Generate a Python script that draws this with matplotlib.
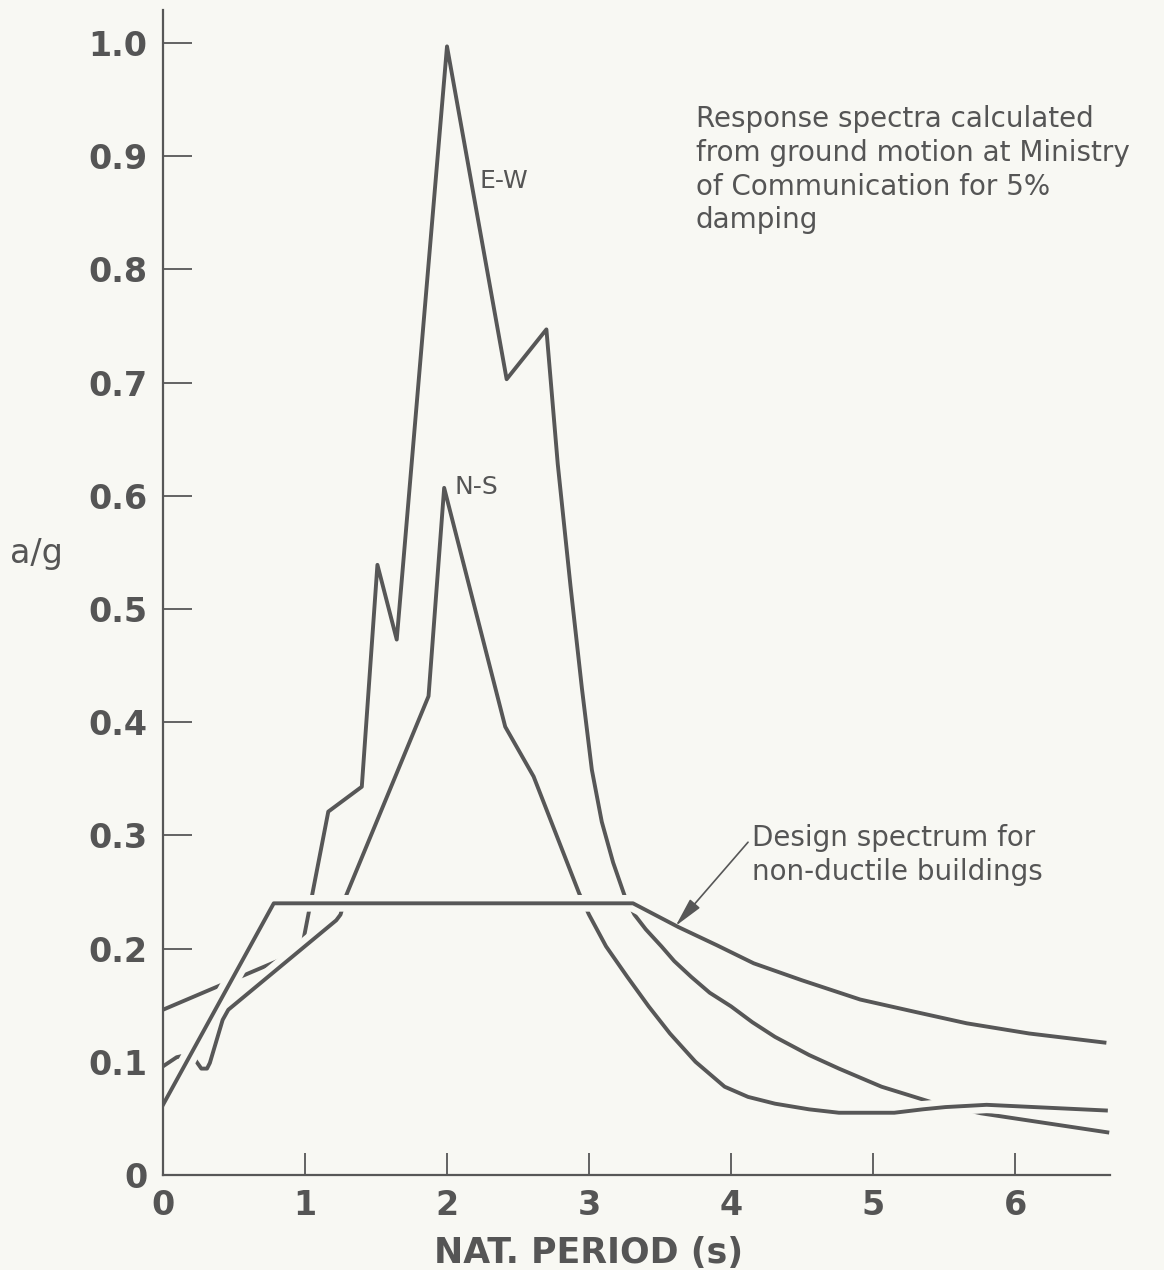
import matplotlib.pyplot as plt
import matplotlib.patheffects as pe

# response spectra (period in s, a/g)
ew_period = [0.0, 0.974, 1.164, 1.40, 1.51, 1.646, 2.0, 2.42, 2.70, 2.78, 2.87, 2.95,
             3.02, 3.09, 3.17, 3.25, 3.32, 3.40, 3.51, 3.60, 3.72, 3.85, 4.0, 4.15,
             4.31, 4.55, 4.76, 5.06, 5.42, 5.76, 6.65]
ew_accel = [0.146, 0.198, 0.321, 0.343, 0.539, 0.473, 0.997, 0.703, 0.747, 0.628, 0.52, 0.43,
            0.358, 0.312, 0.276, 0.247, 0.230, 0.217, 0.202, 0.189, 0.175, 0.161, 0.149, 0.135,
            0.122, 0.106, 0.094, 0.078, 0.064, 0.0545, 0.0377]

ns_period = [0.0, 0.096, 0.13, 0.225, 0.27, 0.31, 0.33, 0.42, 0.46, 1.22, 1.25, 1.29, 1.87,
             1.98, 2.41, 2.61, 2.93, 3.0, 3.12, 3.27, 3.42, 3.57, 3.75, 3.955, 4.12, 4.31,
             4.55, 4.76, 5.15, 5.35, 5.51, 5.80, 6.64]
ns_accel = [0.096, 0.104, 0.105, 0.102, 0.094, 0.094, 0.099, 0.137, 0.146, 0.225, 0.230, 0.247,
            0.423, 0.607, 0.396, 0.352, 0.249, 0.230, 0.202, 0.175, 0.149, 0.125, 0.100, 0.078,
            0.069, 0.063, 0.058, 0.055, 0.055, 0.058, 0.060, 0.062, 0.057]

design_period = [0.0, 0.78, 3.31, 3.63, 3.90, 4.16, 4.50, 4.91, 5.30, 5.66, 6.10, 6.63]
design_accel = [0.062, 0.24, 0.24, 0.219, 0.203, 0.187, 0.172, 0.155, 0.144, 0.134, 0.125, 0.117]

xticks = [0, 1, 2, 3, 4, 5, 6]
yticks = [0, 0.1, 0.2, 0.3, 0.4, 0.5, 0.6, 0.7, 0.8, 0.9, 1.0]
ytick_labels = ["0", "0.1", "0.2", "0.3", "0.4", "0.5", "0.6", "0.7", "0.8", "0.9", "1.0"]

bg = "#f8f8f3"
ink = "#575757"
txt = "#555555"

fig = plt.figure(figsize=(11.64, 12.70), dpi=100, facecolor=bg)
ax = fig.add_axes([163 / 1164, 1 - 1175 / 1270, 947 / 1164, 1165 / 1270], facecolor=bg)

lw = 2.8
halo = [pe.Stroke(linewidth=12, foreground=bg), pe.Normal()]

ax.plot(ew_period, ew_accel, color=ink, lw=lw, zorder=2, solid_joinstyle="round")
ax.plot(ns_period, ns_accel, color=ink, lw=lw, zorder=3, solid_joinstyle="round",
        path_effects=halo)
ax.plot(design_period, design_accel, color=ink, lw=lw, zorder=4, solid_joinstyle="round",
        path_effects=halo)

ax.text(2.23, 0.878, "E-W", fontsize=18, color=txt, va="center")
ax.text(2.05, 0.608, "N-S", fontsize=18, color=txt, va="center")

ax.text(3.75, 0.945, "Response spectra calculated\nfrom ground motion at Ministry\n"
        "of Communication for 5%\ndamping", fontsize=20, color=txt, va="top",
        linespacing=1.26)
ax.text(4.15, 0.283, "Design spectrum for\nnon-ductile buildings", fontsize=20,
        color=txt, va="center", linespacing=1.26)
ax.annotate("", xy=(3.61, 0.22), xytext=(4.12, 0.294),
            arrowprops=dict(arrowstyle="-|>,head_length=0.9,head_width=0.2",
                            mutation_scale=20, color=ink, lw=1.2,
                            shrinkA=0, shrinkB=0), zorder=6)

ax.set_xlim(0, 947 / 142)
ax.set_ylim(0, 1165 / 1132)
ax.set_xticks(xticks)
ax.set_yticks(yticks)
ax.set_yticklabels(ytick_labels)
for lab in ax.get_xticklabels() + ax.get_yticklabels():
    lab.set_fontweight("bold")
ax.tick_params(axis="y", direction="in", length=21, width=1.3, pad=11,
               labelsize=24, colors=ink, labelcolor=txt)
ax.tick_params(axis="x", direction="in", length=16, width=1.3, pad=10,
               labelsize=24, colors=ink, labelcolor=txt)

for side in ["top", "right"]:
    ax.spines[side].set_visible(False)
for side in ["left", "bottom"]:
    ax.spines[side].set_linewidth(1.6)
    ax.spines[side].set_color(ink)
    ax.spines[side].set_zorder(6)

ax.text(3.0, -0.069, "NAT. PERIOD (s)", fontsize=25, fontweight="bold", color=txt,
        ha="center", va="center")
fig.text(10 / 1164, 1 - 553 / 1270, "a/g", fontsize=24, color=txt, va="center")

fig.savefig("out.png", dpi=100, facecolor=bg)
